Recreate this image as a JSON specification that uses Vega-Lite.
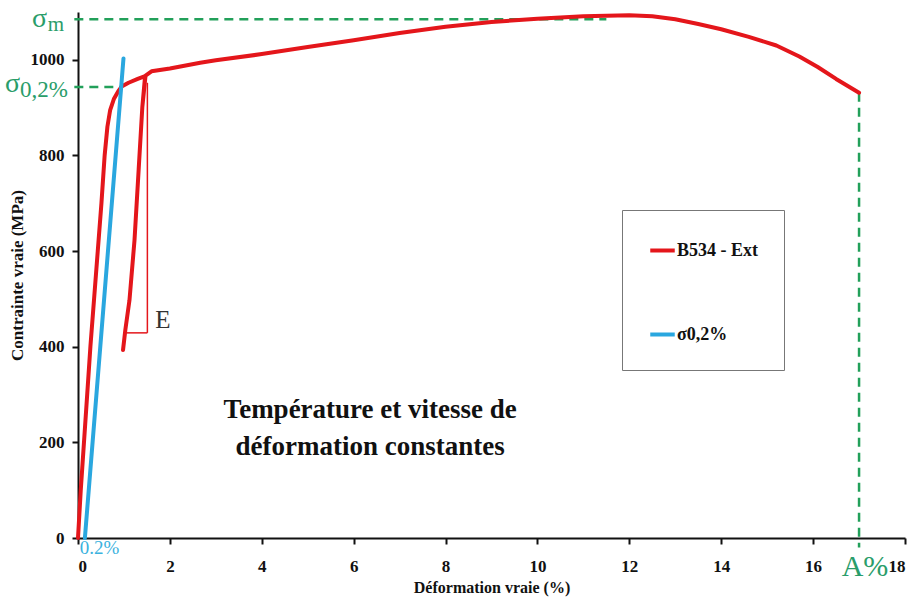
{
  "$schema": "https://vega.github.io/schema/vega-lite/v6.json",
  "width": 827,
  "height": 526,
  "autosize": {"type": "none"},
  "padding": {"left": 78, "top": 12, "right": 12, "bottom": 60},
  "background": "white",
  "config": {
    "view": {"stroke": null},
    "font": "Liberation Serif",
    "axis": {
      "grid": false, "domainColor": "#111", "domainWidth": 2, "tickColor": "#111", "tickWidth": 2, "tickSize": 6,
      "labelFont": "Liberation Serif", "labelFontWeight": "bold", "labelFontSize": 17, "labelColor": "#111",
      "titleFont": "Liberation Serif", "titleFontWeight": "bold", "titleColor": "#111"
    },
    "axisX": {"labelPadding": 14, "titleFontSize": 16, "titlePadding": 5},
    "axisY": {"labelPadding": 8, "titleFontSize": 17, "titlePadding": 4}
  },
  "datasets": {
    "curves": [
      {"series": "B534 - Ext", "i": 1, "strain": 0, "stress": 0},
      {"series": "B534 - Ext", "i": 2, "strain": 0.06, "stress": 100},
      {"series": "B534 - Ext", "i": 3, "strain": 0.13, "stress": 200},
      {"series": "B534 - Ext", "i": 4, "strain": 0.2, "stress": 300},
      {"series": "B534 - Ext", "i": 5, "strain": 0.27, "stress": 400},
      {"series": "B534 - Ext", "i": 6, "strain": 0.35, "stress": 500},
      {"series": "B534 - Ext", "i": 7, "strain": 0.43, "stress": 600},
      {"series": "B534 - Ext", "i": 8, "strain": 0.51, "stress": 700},
      {"series": "B534 - Ext", "i": 9, "strain": 0.58, "stress": 800},
      {"series": "B534 - Ext", "i": 10, "strain": 0.64, "stress": 860},
      {"series": "B534 - Ext", "i": 11, "strain": 0.7, "stress": 895},
      {"series": "B534 - Ext", "i": 12, "strain": 0.78, "stress": 918},
      {"series": "B534 - Ext", "i": 13, "strain": 0.88, "stress": 935},
      {"series": "B534 - Ext", "i": 14, "strain": 0.95, "stress": 944},
      {"series": "B534 - Ext", "i": 15, "strain": 1.1, "stress": 952},
      {"series": "B534 - Ext", "i": 16, "strain": 1.3, "stress": 960},
      {"series": "B534 - Ext", "i": 17, "strain": 1.46, "stress": 966},
      {"series": "B534 - Ext", "i": 18, "strain": 1.4, "stress": 901},
      {"series": "B534 - Ext", "i": 19, "strain": 1.32, "stress": 770},
      {"series": "B534 - Ext", "i": 20, "strain": 1.23, "stress": 623},
      {"series": "B534 - Ext", "i": 21, "strain": 1.12, "stress": 497},
      {"series": "B534 - Ext", "i": 22, "strain": 1.03, "stress": 435},
      {"series": "B534 - Ext", "i": 23, "strain": 0.98, "stress": 393},
      {"series": "B534 - Ext", "i": 24, "strain": 1.03, "stress": 435},
      {"series": "B534 - Ext", "i": 25, "strain": 1.12, "stress": 497},
      {"series": "B534 - Ext", "i": 26, "strain": 1.23, "stress": 623},
      {"series": "B534 - Ext", "i": 27, "strain": 1.32, "stress": 770},
      {"series": "B534 - Ext", "i": 28, "strain": 1.4, "stress": 901},
      {"series": "B534 - Ext", "i": 29, "strain": 1.47, "stress": 967},
      {"series": "B534 - Ext", "i": 30, "strain": 1.6, "stress": 976},
      {"series": "B534 - Ext", "i": 31, "strain": 2, "stress": 982},
      {"series": "B534 - Ext", "i": 32, "strain": 2.66, "stress": 994},
      {"series": "B534 - Ext", "i": 33, "strain": 3, "stress": 999},
      {"series": "B534 - Ext", "i": 34, "strain": 4, "stress": 1012},
      {"series": "B534 - Ext", "i": 35, "strain": 5, "stress": 1027},
      {"series": "B534 - Ext", "i": 36, "strain": 6, "stress": 1041},
      {"series": "B534 - Ext", "i": 37, "strain": 7, "stress": 1056},
      {"series": "B534 - Ext", "i": 38, "strain": 8, "stress": 1069},
      {"series": "B534 - Ext", "i": 39, "strain": 9, "stress": 1079},
      {"series": "B534 - Ext", "i": 40, "strain": 10, "stress": 1086},
      {"series": "B534 - Ext", "i": 41, "strain": 11, "stress": 1091},
      {"series": "B534 - Ext", "i": 42, "strain": 12, "stress": 1093},
      {"series": "B534 - Ext", "i": 43, "strain": 12.5, "stress": 1091},
      {"series": "B534 - Ext", "i": 44, "strain": 13, "stress": 1085},
      {"series": "B534 - Ext", "i": 45, "strain": 13.5, "stress": 1075},
      {"series": "B534 - Ext", "i": 46, "strain": 14, "stress": 1064},
      {"series": "B534 - Ext", "i": 47, "strain": 14.6, "stress": 1048},
      {"series": "B534 - Ext", "i": 48, "strain": 15.2, "stress": 1030},
      {"series": "B534 - Ext", "i": 49, "strain": 15.7, "stress": 1007},
      {"series": "B534 - Ext", "i": 50, "strain": 16.1, "stress": 985},
      {"series": "B534 - Ext", "i": 51, "strain": 16.5, "stress": 960},
      {"series": "B534 - Ext", "i": 52, "strain": 17, "stress": 931},
      {"series": "σ0,2%", "i": 1, "strain": 0.15, "stress": 0},
      {"series": "σ0,2%", "i": 2, "strain": 0.99, "stress": 1003}
    ],
    "guides": [
      {"x": -0.08, "x2": 11.5, "y": 1085, "y2": 1085},
      {"x": -0.08, "x2": 0.93, "y": 943, "y2": 943},
      {"x": 17, "x2": 17, "y": 931, "y2": -20}
    ],
    "bracket": [
      {"x": 1.51, "x2": 1.51, "y": 952, "y2": 429},
      {"x": 1.06, "x2": 1.51, "y": 429, "y2": 429}
    ]
  },
  "layer": [
    {
      "data": {"name": "guides"},
      "mark": {"type": "rule", "color": "#22a05a", "strokeWidth": 2.5, "strokeDash": [9, 6]},
      "encoding": {
        "x": {
          "field": "x", "type": "quantitative",
          "scale": {"domain": [0, 18], "nice": false},
          "axis": {"title": "Déformation vraie (%)", "values": [0, 2, 4, 6, 8, 10, 12, 14, 16, 18], "format": "d"}
        },
        "x2": {"field": "x2"},
        "y": {
          "field": "y", "type": "quantitative",
          "scale": {"domain": [0, 1100], "nice": false},
          "axis": {"title": "Contrainte vraie (MPa)", "values": [0, 200, 400, 600, 800, 1000], "format": "d"}
        },
        "y2": {"field": "y2"}
      }
    },
    {
      "data": {"name": "bracket"},
      "mark": {"type": "rule", "color": "#e4161b", "strokeWidth": 1.5},
      "encoding": {
        "x": {"field": "x", "type": "quantitative"},
        "x2": {"field": "x2"},
        "y": {"field": "y", "type": "quantitative"},
        "y2": {"field": "y2"}
      }
    },
    {
      "data": {"name": "curves"},
      "mark": {"type": "line", "strokeWidth": 4, "strokeJoin": "round", "strokeCap": "round"},
      "encoding": {
        "x": {"field": "strain", "type": "quantitative"},
        "y": {"field": "stress", "type": "quantitative"},
        "color": {
          "field": "series", "type": "nominal",
          "scale": {"domain": ["B534 - Ext", "σ0,2%"], "range": ["#e4161b", "#2aa7df"]},
          "legend": {
            "title": null, "orient": "none", "legendX": 544, "legendY": 198,
            "strokeColor": "#777", "fillColor": "white", "padding": 26,
            "symbolType": "stroke", "symbolStrokeWidth": 4, "symbolSize": 600,
            "labelFont": "Liberation Serif", "labelFontWeight": "bold", "labelFontSize": 18, "labelColor": "#111",
            "labelOffset": 0, "rowPadding": 60
          }
        },
        "detail": {"field": "series"},
        "order": {"field": "i", "type": "quantitative"}
      }
    },
    {
      "data": {"values": [
        {"x": 6.36, "y": 268, "t": "Température et vitesse de"},
        {"x": 6.36, "y": 190, "t": "déformation constantes"}
      ]},
      "mark": {"type": "text", "font": "Liberation Serif", "fontWeight": "bold", "fontSize": 27, "color": "#111", "align": "center", "baseline": "middle"},
      "encoding": {
        "x": {"field": "x", "type": "quantitative"},
        "y": {"field": "y", "type": "quantitative"},
        "text": {"field": "t"}
      }
    },
    {
      "data": {"values": [{"x": 1.85, "y": 456, "t": "E"}]},
      "mark": {"type": "text", "font": "Liberation Serif", "fontSize": 25, "color": "#333", "align": "center", "baseline": "middle"},
      "encoding": {
        "x": {"field": "x", "type": "quantitative"},
        "y": {"field": "y", "type": "quantitative"},
        "text": {"field": "t"}
      }
    },
    {
      "data": {"values": [{"x": 0.04, "y": -21, "t": "0.2%"}]},
      "mark": {"type": "text", "font": "Liberation Serif", "fontSize": 19, "color": "#3ab2de", "align": "left", "baseline": "middle"},
      "encoding": {
        "x": {"field": "x", "type": "quantitative"},
        "y": {"field": "y", "type": "quantitative"},
        "text": {"field": "t"}
      }
    },
    {
      "data": {"values": [{"x": 17.13, "y": -61, "t": "A%"}]},
      "mark": {"type": "text", "font": "Liberation Serif", "fontSize": 30, "color": "#2a9d6a", "align": "center", "baseline": "middle"},
      "encoding": {
        "x": {"field": "x", "type": "quantitative"},
        "y": {"field": "y", "type": "quantitative"},
        "text": {"field": "t"}
      }
    },
    {
      "data": {"values": [{"x": 0, "y": 1085, "t": "σ"}]},
      "mark": {"type": "text", "font": "Liberation Serif", "fontSize": 28, "color": "#2a9d6a", "align": "right", "baseline": "middle", "dx": -31, "dy": 0},
      "encoding": {
        "x": {"field": "x", "type": "quantitative"},
        "y": {"field": "y", "type": "quantitative"},
        "text": {"field": "t"}
      }
    },
    {
      "data": {"values": [{"x": 0, "y": 1085, "t": "m"}]},
      "mark": {"type": "text", "font": "Liberation Serif", "fontSize": 21, "color": "#2a9d6a", "align": "right", "baseline": "middle", "dx": -14, "dy": 6},
      "encoding": {
        "x": {"field": "x", "type": "quantitative"},
        "y": {"field": "y", "type": "quantitative"},
        "text": {"field": "t"}
      }
    },
    {
      "data": {"values": [{"x": 0, "y": 943, "t": "σ"}]},
      "mark": {"type": "text", "font": "Liberation Serif", "fontSize": 28, "color": "#2a9d6a", "align": "right", "baseline": "middle", "dx": -58, "dy": -3},
      "encoding": {
        "x": {"field": "x", "type": "quantitative"},
        "y": {"field": "y", "type": "quantitative"},
        "text": {"field": "t"}
      }
    },
    {
      "data": {"values": [{"x": 0, "y": 943, "t": "0,2%"}]},
      "mark": {"type": "text", "font": "Liberation Serif", "fontSize": 23, "color": "#2a9d6a", "align": "right", "baseline": "middle", "dx": -10, "dy": 3},
      "encoding": {
        "x": {"field": "x", "type": "quantitative"},
        "y": {"field": "y", "type": "quantitative"},
        "text": {"field": "t"}
      }
    }
  ]
}
